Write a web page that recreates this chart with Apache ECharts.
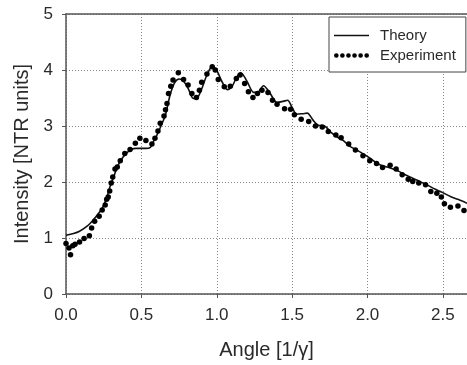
<!DOCTYPE html>
<html><head><meta charset="utf-8">
<script src="https://cdn.jsdelivr.net/npm/echarts@6/dist/echarts.min.js"></script>
<style>html,body{margin:0;padding:0;background:#fff}#c{width:467px;height:365px}</style>
</head><body><div id="c"></div>
<script>
var xTicks = [0, 0.5, 1.0, 1.5, 2.0, 2.5];
var yTicks = [0, 1, 2, 3, 4, 5];
var theoryX = [0,0.05,0.09,0.14,0.18,0.21,0.24,0.27,0.29,0.32,0.34,0.38,0.425,0.46,0.49,0.53,0.56,0.58,0.6,0.63,0.66,0.69,0.72,0.75,0.78,0.81,0.845,0.87,0.9,0.93,0.97,1.0,1.035,1.07,1.1,1.13,1.16,1.2,1.245,1.27,1.31,1.35,1.4,1.44,1.47,1.5,1.53,1.57,1.6,1.64,1.67,1.72,1.76,1.8,1.84,1.88,1.93,1.98,2.02,2.06,2.1,2.15,2.2,2.25,2.29,2.33,2.37,2.4,2.45,2.5,2.55,2.6,2.66];
var theoryY = [1.05,1.08,1.12,1.21,1.32,1.42,1.53,1.72,1.9,2.12,2.27,2.45,2.57,2.6,2.6,2.6,2.62,2.72,2.82,3.0,3.2,3.55,3.77,3.84,3.8,3.67,3.49,3.5,3.66,3.88,4.06,3.99,3.79,3.65,3.7,3.86,3.95,3.8,3.6,3.6,3.72,3.6,3.42,3.44,3.46,3.33,3.21,3.22,3.23,3.1,3.02,2.99,2.88,2.8,2.74,2.64,2.57,2.49,2.42,2.34,2.29,2.25,2.2,2.13,2.08,2.03,1.98,1.94,1.87,1.81,1.74,1.69,1.62];
var expX = [0,0.02,0.03,0.045,0.06,0.09,0.12,0.155,0.17,0.19,0.22,0.24,0.26,0.27,0.28,0.29,0.30,0.31,0.325,0.34,0.36,0.39,0.425,0.46,0.49,0.53,0.57,0.59,0.61,0.625,0.65,0.66,0.67,0.68,0.695,0.71,0.745,0.78,0.81,0.835,0.865,0.885,0.90,0.935,0.97,0.99,1.01,1.05,1.09,1.13,1.155,1.185,1.21,1.24,1.27,1.30,1.34,1.37,1.40,1.45,1.49,1.515,1.56,1.61,1.655,1.70,1.74,1.79,1.825,1.875,1.92,1.97,2.015,2.06,2.10,2.15,2.19,2.23,2.27,2.30,2.34,2.385,2.42,2.46,2.49,2.51,2.55,2.60,2.64];
var expY = [0.9,0.82,0.70,0.86,0.89,0.93,0.99,1.04,1.18,1.30,1.39,1.50,1.59,1.69,1.73,1.84,1.98,2.09,2.23,2.27,2.38,2.51,2.58,2.69,2.78,2.74,2.68,2.78,2.91,3.05,3.18,3.29,3.40,3.58,3.71,3.82,3.95,3.83,3.73,3.58,3.51,3.64,3.78,3.93,4.06,4.0,3.83,3.70,3.71,3.85,3.91,3.76,3.61,3.51,3.58,3.64,3.60,3.46,3.39,3.31,3.30,3.20,3.12,3.08,3.0,2.98,2.90,2.84,2.79,2.68,2.57,2.47,2.38,2.33,2.26,2.30,2.23,2.13,2.05,2.01,1.98,1.95,1.83,1.80,1.73,1.61,1.55,1.57,1.49];

var theory = theoryX.map(function(x,i){return [x, theoryY[i]];});
var exp = expX.map(function(x,i){return [x, expY[i]];});

function circ(cx){ return 'M' + (cx-2.3) + ',2.5a2.3,2.3 0 1,0 4.6,0a2.3,2.3 0 1,0 -4.6,0'; }
var dotsIcon = 'path://' + [2.5, 8.5, 14.5, 20.5, 26.5, 32.5].map(circ).join('');
var lineIcon = 'path://M0,0H35V1.6H0Z';

var chart = echarts.init(document.getElementById('c'));
var FONT = 'Liberation Sans';
function fmt(v){ for (var i=0;i<xTicks.length;i++){ if (Math.abs(v-xTicks[i])<1e-6) return xTicks[i].toFixed(1);} return ''; }
chart.setOption({
  backgroundColor: '#fff',
  animation: false,
  grid: {left: 66, top: 14, right: 0, bottom: 71},
  legend: {
    orient: 'vertical', left: 329, top: 17,
    backgroundColor: '#fff', borderColor: '#444', borderWidth: 1,
    padding: [11, 10, 9, 5], itemGap: 5, itemWidth: 35, itemHeight: 14,
    textStyle: {fontFamily: FONT, fontSize: 15, color: '#2a2a2a', padding: [0,0,0,6], lineHeight: 14},
    data: [{name: 'Theory', icon: lineIcon}, {name: 'Experiment', icon: dotsIcon}]
  },
  xAxis: [{
    type: 'value', min: 0, max: 2.66, interval: 0.5,
    name: 'Angle [1/\u03b3]', nameLocation: 'middle', nameGap: 46,
    nameTextStyle: {fontFamily: FONT, fontSize: 20, color: '#2a2a2a'},
    axisLine: {lineStyle: {color: '#555', width: 1.5}},
    axisTick: {show: true, inside: false, length: 4, lineStyle: {color: '#555'}},
    axisLabel: {fontFamily: FONT, fontSize: 17, color: '#2a2a2a', margin: 13, formatter: fmt, showMaxLabel: false},
    splitLine: {show: true, lineStyle: {color: '#888', type: [1,2], width: 1}}
  }, {
    type: 'value', position: 'top', min: 0, max: 2.66,
    axisLine: {show: true, lineStyle: {color: '#555', width: 1.5}},
    axisTick: {show: false}, axisLabel: {show: false}, splitLine: {show: false}
  }],
  yAxis: {
    type: 'value', min: 0, max: 5, interval: 1,
    name: 'Intensity [NTR units]', nameLocation: 'middle', nameGap: 33,
    nameTextStyle: {fontFamily: FONT, fontSize: 20, color: '#2a2a2a'},
    axisLine: {show: true, lineStyle: {color: '#555', width: 1.5}},
    axisTick: {show: true, inside: false, length: 4, lineStyle: {color: '#555'}},
    axisLabel: {fontFamily: FONT, fontSize: 17, color: '#2a2a2a', margin: 13},
    splitLine: {show: true, lineStyle: {color: '#888', type: [1,2], width: 1}}
  },
  series: [{
    name: 'Theory', type: 'line', data: theory, symbol: 'none', smooth: 0.3,
    lineStyle: {color: '#111', width: 1.6}, itemStyle: {color: '#111'}, z: 3
  }, {
    name: 'Experiment', type: 'scatter', data: exp, symbol: 'circle', symbolSize: 5.5,
    itemStyle: {color: '#000', opacity: 1}, z: 4
  }]
});
</script></body></html>
